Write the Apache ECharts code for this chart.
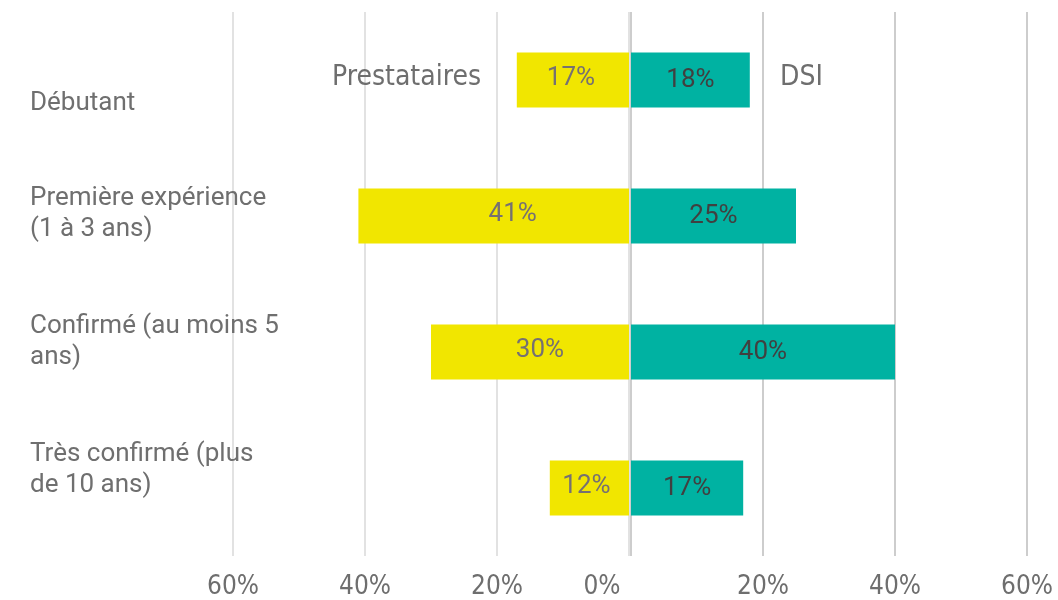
<!DOCTYPE html>
<html><head><meta charset="utf-8">
<script src="https://cdn.jsdelivr.net/npm/echarts@6/dist/echarts.min.js"></script>
<style>html,body{margin:0;padding:0;background:#fff}#c{width:1058px;height:600px}</style>
</head><body><div id="c"></div>
<script>
const categories = ['Débutant', 'Première expérience\n(1 à 3 ans)', 'Confirmé (au moins 5\nans)', 'Très confirmé (plus\nde 10 ans)'];
const prestataires = [17, 41, 30, 12];
const dsi = [18, 25, 40, 17];
const seriesNames = ['Prestataires', 'DSI'];
const xTicks = [0, 20, 40, 60];

// style only: horizontal nudges of the left labels, as in the reference
const prestLabelShift = [-2, 19, 10, -3];
const narrow = '"DejaVu Sans Condensed", "Liberation Sans Narrow", "Noto Sans", sans-serif';
const catShift = [[46,0,0,0],[0,0,4,0],[0,0,20,0],[0,0,36,0]];
const chart = echarts.init(document.getElementById('c'));
const axisFont = {fontFamily: narrow, fontSize: 26, color: '#6e6e6e'};
const rich = {};
catShift.forEach((p, i) => { rich['c' + i] = {padding: p, fontFamily: 'Roboto', fontSize: 26, lineHeight: 31, color: '#6f6f6f', align: 'left'}; });
chart.setOption({
  animation: false,
  grid: [
    {left: 233, width: 396, top: 12, bottom: 42},
    {left: 631, width: 396, top: 12, bottom: 42}
  ],
  legend: [
    {data: [seriesNames[0]], left: 322, top: 59, icon: 'none', itemWidth: 0, itemGap: 0,
     textStyle: {fontFamily: narrow, fontSize: 28, color: '#6e6e6e'}},
    {data: [seriesNames[1]], left: 770, top: 59, icon: 'none', itemWidth: 0, itemGap: 0,
     textStyle: {fontFamily: narrow, fontSize: 28, color: '#6e6e6e'}}
  ],
  xAxis: [
    {gridIndex: 0, type: 'value', inverse: true, min: 0, max: 60, interval: 20,
     axisLine: {show: false}, axisTick: {show: false},
     splitLine: {lineStyle: {color: '#d9d9d9', width: 1.5}},
     axisLabel: Object.assign({margin: 18, formatter: v => v === 0 ? '{z|0%}' : v + '%',
       rich: {z: {padding: [0, 54, 0, 0], fontFamily: narrow, fontSize: 26, color: '#6e6e6e'}}}, axisFont)},
    {gridIndex: 1, type: 'value', min: 0, max: 60, interval: 20,
     axisLine: {show: false}, axisTick: {show: false},
     splitLine: {lineStyle: {color: '#bdbdbd', width: 1.5}},
     axisLabel: Object.assign({margin: 18, showMinLabel: false, formatter: v => v + '%'}, axisFont)}
  ],
  yAxis: [
    {gridIndex: 0, type: 'category', data: categories, inverse: true,
     axisLine: {show: false}, axisTick: {show: false},
     axisLabel: {align: 'left', margin: 203, formatter: (v, i) => '{c' + i + '|' + v + '}', rich: rich}},
    {gridIndex: 1, type: 'category', data: categories, inverse: true,
     axisLine: {show: false}, axisTick: {show: false}, axisLabel: {show: false}}
  ],
  series: [
    {name: seriesNames[0], type: 'bar', xAxisIndex: 0, yAxisIndex: 0, barWidth: 55,
     data: prestataires.map((v, i) => ({value: v, label: {offset: [prestLabelShift[i], -2]}})),
     itemStyle: {color: '#f1e600'},
     label: {show: true, position: 'inside', formatter: '{c}%', fontFamily: 'Roboto', fontSize: 26, color: '#767171'}},
    {name: seriesNames[1], type: 'bar', xAxisIndex: 1, yAxisIndex: 1, data: dsi, barWidth: 55,
     itemStyle: {color: '#00b2a2'},
     label: {show: true, position: 'inside', formatter: '{c}%', fontFamily: 'Roboto', fontSize: 26, color: '#404040'}}
  ]
});
</script></body></html>
